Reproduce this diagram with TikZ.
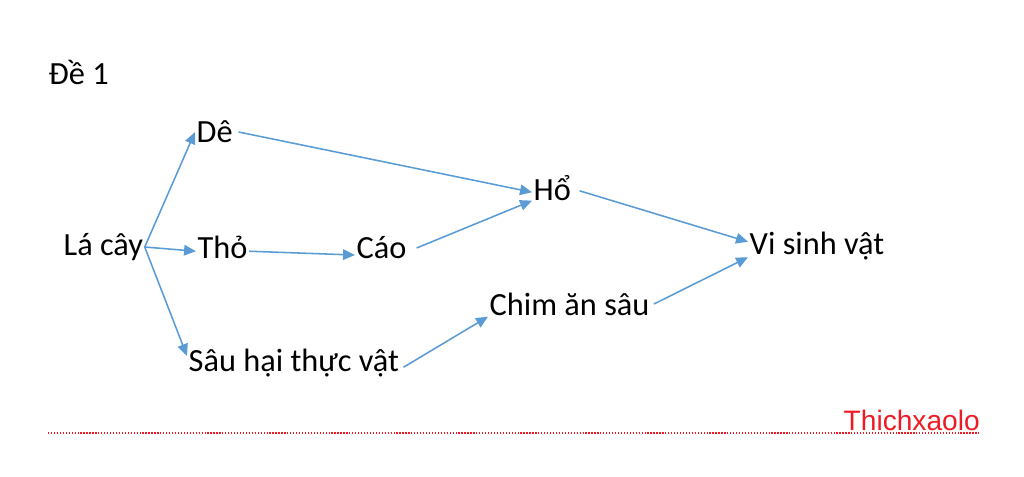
\documentclass[tikz,border=0pt]{standalone}
\usepackage{fontspec}
\setmainfont{Carlito}
\newfontfamily\markfont{Liberation Sans}
\usetikzlibrary{arrows.meta}
\definecolor{arrowblue}{RGB}{91,155,213}
\definecolor{markred}{RGB}{237,28,36}

\begin{document}
\begin{tikzpicture}[x=0.025cm, y=-0.025cm,
  loai/.style={inner sep=1pt, font=\fontsize{23}{26}\selectfont},
  an/.style={draw=arrowblue, line width=1.1pt, -{Triangle[length=8.5pt, width=7.5pt]}}]
\useasboundingbox (0,0) rectangle (1024,476);

% Tiêu đề
\node[loai, anchor=west] (title) at (47,72) {Đề 1};

% Các loài
\node[loai, anchor=west] (la) at (62,247) {Lá cây};
\node[loai, anchor=west] (de) at (195,132) {Dê};
\node[loai, anchor=west] (tho) at (196,247) {Thỏ};
\node[loai, anchor=west] (cao) at (355,248) {Cáo};
\node[loai, anchor=west] (ho) at (532,188) {Hổ};
\node[loai, anchor=west] (vsv) at (748,246) {Vi sinh vật};
\node[loai, anchor=west] (chim) at (488,304) {Chim ăn sâu};
\node[loai, anchor=west] (sau) at (187,363) {Sâu hại thực vật};

% Chuỗi thức ăn
\draw[an] (la.east) -- (de.west);
\draw[an] (la.east) -- ([yshift=-3]tho.west);
\draw[an] (la.east) -- ([yshift=5]sau.west);
\draw[an] ([xshift=3]de.east) -- ([yshift=-3]ho.west);
\draw[an] ([yshift=-3]tho.east) -- ([yshift=-5]cao.west);
\draw[an] ([xshift=6]cao.east) -- ([yshift=-9]ho.west);
\draw[an] ([xshift=5,yshift=-2]ho.east) -- ([yshift=3]vsv.west);
\draw[an] ([xshift=2,yshift=-3]sau.east) -- ([yshift=-9]chim.west);
\draw[an] ([xshift=2]chim.east) -- ([yshift=-8]vsv.west);

% Dấu
\node[inner sep=0pt, anchor=east, text=markred, font=\markfont\fontsize{20}{23}\selectfont] (mark) at (980,420) {Thichxaolo};
\draw[markred, line width=1.1pt, dash pattern=on 0.9pt off 1.2pt] (48,433) -- (980,433);
\end{tikzpicture}
\end{document}
